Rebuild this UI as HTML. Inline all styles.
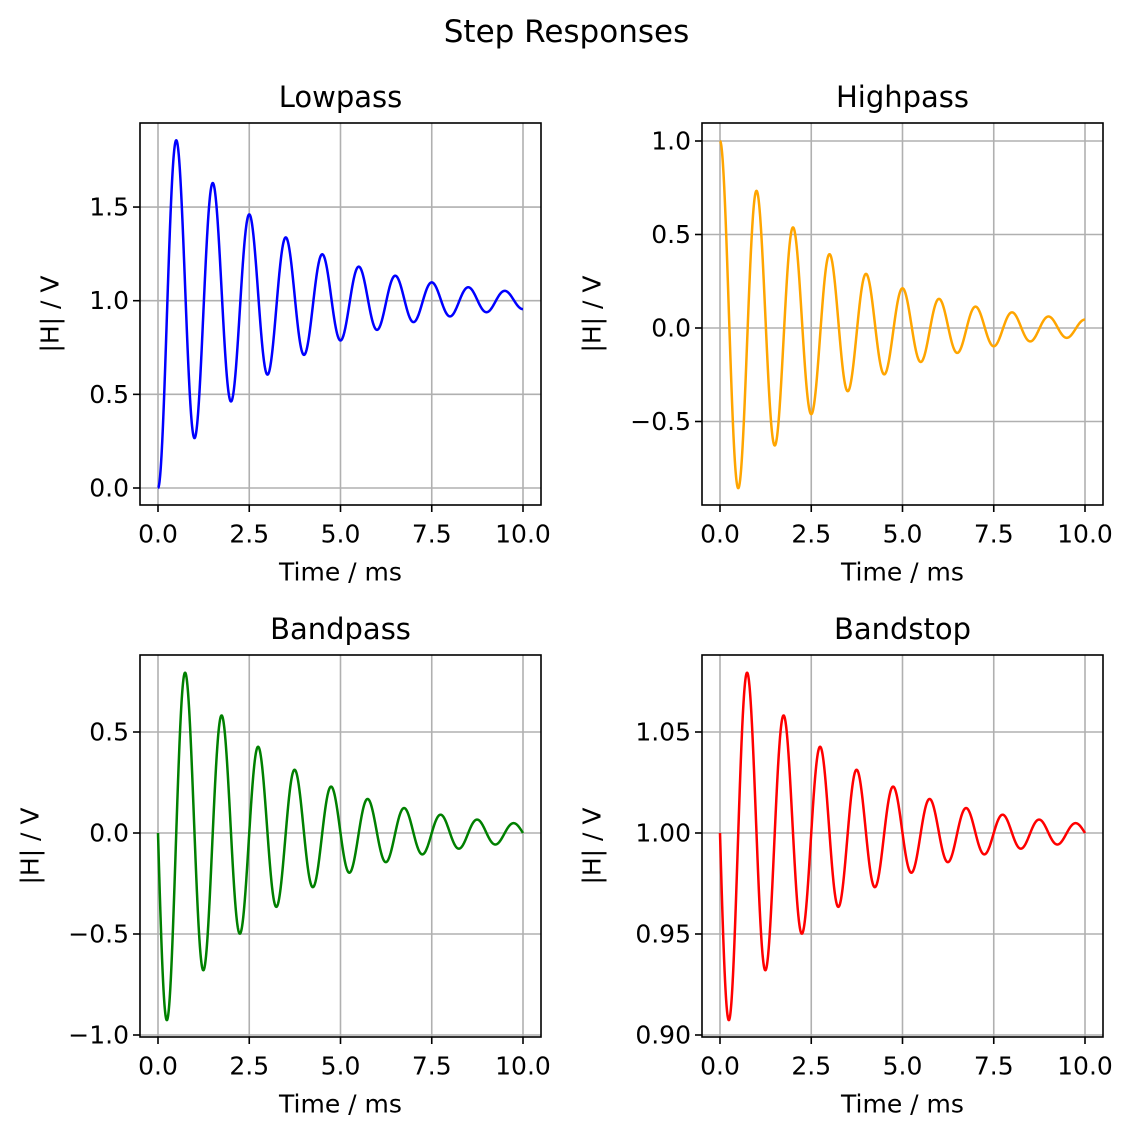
<!DOCTYPE html>
<html><head><meta charset="utf-8"><style>
html,body{margin:0;padding:0;background:#fff;}
svg{display:block;font-family:"DejaVu Sans","Liberation Sans",sans-serif;}
</style></head><body>
<svg id="s" width="1133" height="1138" viewBox="0 0 1133 1138" xmlns="http://www.w3.org/2000/svg">
<rect width="1133" height="1138" fill="#fff"/>
<text x="566.5" y="32" font-size="31" text-anchor="middle" dominant-baseline="central">Step Responses</text>
</svg>
<script>
const svg=document.getElementById('s');
const NS='http://www.w3.org/2000/svg';
function el(t,a,txt){const e=document.createElementNS(NS,t);for(const k in a)e.setAttribute(k,a[k]);if(txt!==undefined)e.textContent=txt;svg.appendChild(e);return e;}
const a=0.31,w=2*Math.PI;
const panels=[
 {x0:140,y0:123,title:'Lowpass',color:'#0000ff',ref:[0,488],scale:187.3,ticks:[[0,'0.0'],[0.5,'0.5'],[1,'1.0'],[1.5,'1.5']],
  f:t=>1-Math.exp(-a*t)*(Math.cos(w*t)+a/w*Math.sin(w*t))},
 {x0:702,y0:123,title:'Highpass',color:'#ffa500',ref:[0,328],scale:187,ticks:[[-0.5,'\u22120.5'],[0,'0.0'],[0.5,'0.5'],[1,'1.0']],
  f:t=>Math.exp(-a*t)*(Math.cos(w*t)+a/w*Math.sin(w*t))},
 {x0:140,y0:655,title:'Bandpass',color:'#008000',ref:[0,833],scale:202,ticks:[[-1,'\u22121.0'],[-0.5,'\u22120.5'],[0,'0.0'],[0.5,'0.5']],
  f:t=>-Math.exp(-a*t)*Math.sin(w*t)},
 {x0:702,y0:655,title:'Bandstop',color:'#ff0000',ref:[1,833],scale:2020,ticks:[[0.9,'0.90'],[0.95,'0.95'],[1,'1.00'],[1.05,'1.05']],
  f:t=>1-0.1*Math.exp(-a*t)*Math.sin(w*t)}
];
const W=401,H=382;
for(const p of panels){
 const X=t=>p.x0+18+t*36.5;
 const Y=v=>p.ref[1]-(v-p.ref[0])*p.scale;
 const bot=p.y0+H;
 for(let t=0;t<=10;t+=2.5){el('line',{x1:X(t),x2:X(t),y1:p.y0,y2:bot,stroke:'#b0b0b0','stroke-width':1.6});}
 for(const [v] of p.ticks){el('line',{x1:p.x0,x2:p.x0+W,y1:Y(v),y2:Y(v),stroke:'#b0b0b0','stroke-width':1.6});}
 let d='';for(let i=0;i<=2000;i++){const t=i*10/2000;d+=(i?'L':'M')+X(t).toFixed(2)+' '+Y(p.f(t)).toFixed(2);}
 el('path',{d:d,fill:'none',stroke:p.color,'stroke-width':2.5,'stroke-linejoin':'round'});
 el('rect',{x:p.x0,y:p.y0,width:W,height:H,fill:'none',stroke:'#000','stroke-width':1.6});
 for(let t=0;t<=10;t+=2.5){el('line',{x1:X(t),x2:X(t),y1:bot,y2:bot+7,stroke:'#000','stroke-width':1.6});
  el('text',{x:X(t),y:bot+29,'font-size':25,'text-anchor':'middle','dominant-baseline':'central'},t.toFixed(1));}
 for(const [v,l] of p.ticks){el('line',{x1:p.x0-7,x2:p.x0,y1:Y(v),y2:Y(v),stroke:'#000','stroke-width':1.6});
  el('text',{x:p.x0-11,y:Y(v),'font-size':25,'text-anchor':'end','dominant-baseline':'central'},l);}
 el('text',{x:p.x0+W/2,y:p.y0-26,'font-size':29,'text-anchor':'middle','dominant-baseline':'central'},p.title);
 el('text',{x:p.x0+W/2,y:bot+67,'font-size':25,'text-anchor':'middle','dominant-baseline':'central'},'Time / ms');
}
const yl=[[50,314],[592,314],[30,846],[592,846]];
for(const [x,y] of yl){el('text',{x:x,y:y,'font-size':25,'text-anchor':'middle','dominant-baseline':'central',transform:`rotate(-90 ${x} ${y})`},'|H| / V');}
</script>
</body></html>
